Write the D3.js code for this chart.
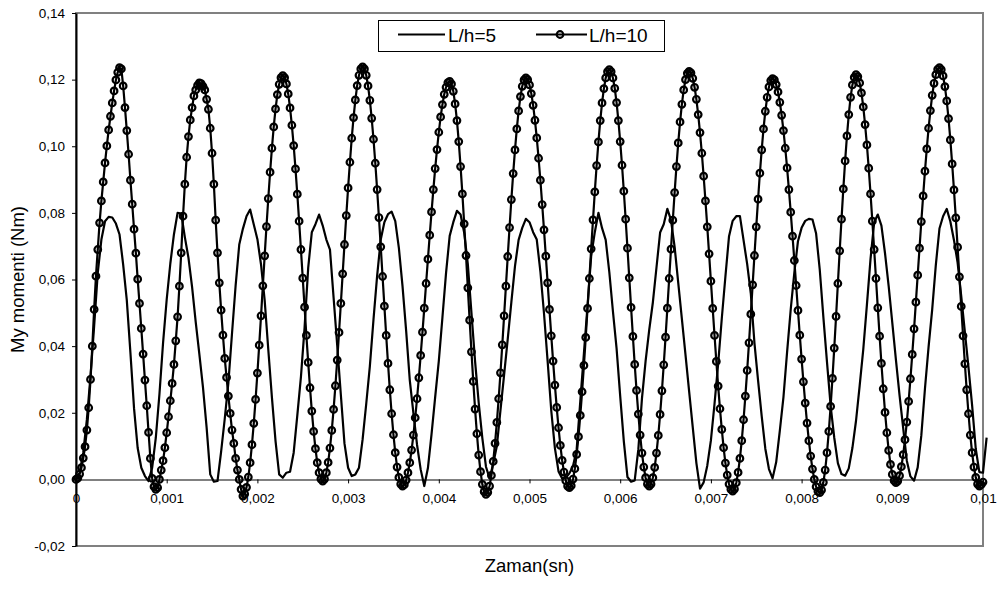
<!DOCTYPE html>
<html><head><meta charset="utf-8">
<script src="https://cdn.jsdelivr.net/npm/d3@7"></script>
<style>body{margin:0;background:#fff}svg{display:block}text{font-family:"Liberation Sans",Arial,sans-serif;fill:#000}</style>
</head><body><svg id="c" width="1003" height="590"></svg>
<script>
const seriesNames = ["L/h=5", "L/h=10"];
const xTitle = "Zaman(sn)";
const yTitle = "My momenti (Nm)";
const xTicks = [0, 0.001, 0.002, 0.003, 0.004, 0.005, 0.006, 0.007, 0.008, 0.009, 0.01];
const xTickLabels = ["0", "0,001", "0,002", "0,003", "0,004", "0,005", "0,006", "0,007", "0,008", "0,009", "0,01"];
const yTicks = [-0.02, 0, 0.02, 0.04, 0.06, 0.08, 0.10, 0.12, 0.14];
const yTickLabels = ["-0,02", "0,00", "0,02", "0,04", "0,06", "0,08", "0,10", "0,12", "0,14"];
// sampling interval (s) of each series
const step5 = 0.00004;
const step10 = 0.00002;
// L/h=5 moment values (Nm)
const lh5 = [
0,0.002,0.008,0.018,0.031,0.046,0.062,0.072,0.0775,0.0788,
0.0786,0.0768,0.0735,0.0645,0.0538,0.038,0.0213,0.0094,0.0035,0.001,
-0.0005,0.0035,0.0125,0.0256,0.041,0.054,0.0648,0.0736,0.080,0.0798,
0.0727,0.0665,0.0577,0.0472,0.0376,0.0276,0.0156,0.0015,-0.0007,-0.0005,
0.0083,0.0182,0.029,0.0438,0.0582,0.0705,0.0752,0.079,0.081,0.0765,
0.0721,0.0645,0.0538,0.039,0.0246,0.0115,0.0015,0.0005,0.002,0.0023,
0.008,0.0192,0.0308,0.0455,0.0635,0.0742,0.0766,0.0795,0.0762,0.072,
0.069,0.0546,0.0402,0.0254,0.0108,0.0035,0.001,0.0015,0.0035,0.012,
0.0227,0.034,0.048,0.0611,0.072,0.0772,0.0796,0.0804,0.0775,0.0694,
0.058,0.0446,0.0298,0.0199,0.0104,0.003,-0.002,0.0034,0.0136,0.0247,
0.0355,0.0486,0.062,0.0731,0.0772,0.0806,0.0795,0.074,0.0646,0.050,
0.0354,0.023,0.0124,0.0038,0.0003,0.0047,0.010,0.0208,0.0314,0.0421,
0.0532,0.064,0.0719,0.0755,0.0782,0.0772,0.0742,0.072,0.0624,0.0498,
0.0354,0.0206,0.0094,0.0024,0.0003,0.0005,0.0018,0.004,0.009,0.0234,
0.0378,0.0522,0.067,0.0742,0.080,0.0754,0.0719,0.0622,0.0504,0.0393,
0.025,0.0114,0.0007,-0.0007,-0.0003,0.009,0.0243,0.0355,0.0449,0.0531,
0.0636,0.0741,0.0766,0.0812,0.0778,0.0698,0.059,0.0482,0.0374,0.0264,
0.0156,0.0049,-0.0028,-0.0009,0.0041,0.0117,0.0227,0.0347,0.0483,0.0609,
0.073,0.0776,0.079,0.079,0.0718,0.0646,0.0558,0.041,0.0297,0.019,
0.0092,0.0031,0.0003,0.0052,0.0146,0.0247,0.0382,0.051,0.0621,0.0715,
0.0755,0.0776,0.0782,0.078,0.0738,0.063,0.0487,0.0352,0.0221,0.0125,
0.0049,0.0016,0.0011,0.0033,0.0094,0.0176,0.0281,0.039,0.0524,0.0662,
0.0771,0.0795,0.0762,0.0678,0.058,0.047,0.0359,0.0252,0.0154,0.0056,
0.0009,-0.0004,0.0036,0.0132,0.0272,0.0398,0.051,0.0644,0.0753,0.079,
0.0812,0.0774,0.0718,0.0651,0.055,0.0443,0.0336,0.0222,0.0092,0.0022,
0.002,0.0125
];
// L/h=10 moment values (Nm)
const lh10 = [
0,0.0004,0.0016,0.0035,0.0064,0.0098,0.0148,0.0215,0.0300,0.0400,0.0510,0.0610,0.0690,0.0770,0.0836,0.0893,0.0950,0.1001,0.1049,0.1090,0.1130,0.1166,0.1199,0.1222,0.1236,
0.1232,0.1181,0.1116,0.1047,0.0976,0.0898,0.0826,0.0751,0.0679,0.0601,0.0528,0.0453,0.0376,0.0298,0.0221,0.0141,0.0063,0.0003,-0.0022,-0.0030,-0.0025,
0.0000,0.0028,0.0056,0.0095,0.0140,0.0188,0.0236,0.0288,0.0345,0.0416,0.0488,0.0580,0.0680,0.0790,0.0886,0.0967,0.1029,0.1079,0.1116,0.1151,0.1169,0.1183,0.1190,
0.1188,0.1180,0.1169,0.1141,0.1111,0.1054,0.0979,0.0886,0.0778,0.0680,0.0590,0.0508,0.0433,0.0363,0.0306,0.0250,0.0198,0.0148,0.0108,0.0063,0.0028,0.0000,-0.0030,-0.0050,
-0.0044,-0.0024,0.0007,0.0050,0.0104,0.0168,0.0240,0.0319,0.0403,0.0491,0.0581,0.0671,0.0759,0.0843,0.0922,0.0994,0.1058,0.1112,0.1155,0.1186,0.1206,0.1212,
0.1206,0.1187,0.1157,0.1115,0.1063,0.1002,0.0932,0.0856,0.0775,0.0690,0.0604,0.0517,0.0432,0.0351,0.0275,0.0205,0.0144,0.0092,0.0050,0.0020,0.0001,-0.0005,
0.0001,0.0020,0.0051,0.0094,0.0147,0.0210,0.0281,0.0358,0.0441,0.0528,0.0617,0.0705,0.0792,0.0875,0.0952,0.1024,0.1086,0.1139,0.1182,0.1213,0.1232,0.1238,
0.1232,0.1213,0.1181,0.1138,0.1084,0.1021,0.0949,0.0870,0.0786,0.0698,0.0609,0.0520,0.0432,0.0348,0.0269,0.0197,0.0134,0.0080,0.0037,0.0006,-0.0014,-0.0020,
-0.0016,-0.0002,0.0020,0.0050,0.0088,0.0133,0.0185,0.0242,0.0305,0.0372,0.0442,0.0514,0.0588,0.0661,0.0733,0.0803,0.0870,0.0933,0.0990,0.1042,0.1088,0.1125,0.1156,0.1177,0.1191,0.1195,
0.1187,0.1165,0.1127,0.1077,0.1014,0.0939,0.0857,0.0767,0.0672,0.0575,0.0478,0.0383,0.0294,0.0211,0.0137,0.0073,0.0023,-0.0015,-0.0037,-0.0045,
-0.0039,-0.0020,0.0012,0.0054,0.0108,0.0171,0.0242,0.0320,0.0404,0.0491,0.0580,0.0669,0.0756,0.0840,0.0918,0.0989,0.1052,0.1106,0.1149,0.1180,0.1199,0.1205,
0.1200,0.1184,0.1158,0.1123,0.1078,0.1025,0.0964,0.0898,0.0825,0.0749,0.0670,0.0590,0.0510,0.0431,0.0355,0.0283,0.0216,0.0155,0.0102,0.0057,0.0022,-0.0004,-0.0020,-0.0025,
-0.0019,0.0001,0.0032,0.0075,0.0128,0.0192,0.0263,0.0342,0.0426,0.0513,0.0603,0.0692,0.0779,0.0863,0.0942,0.1013,0.1077,0.1130,0.1173,0.1205,0.1224,0.1230,
0.1224,0.1205,0.1174,0.1131,0.1077,0.1014,0.0943,0.0865,0.0781,0.0694,0.0605,0.0516,0.0429,0.0345,0.0267,0.0196,0.0133,0.0079,0.0037,0.0005,-0.0014,-0.0020,
-0.0014,0.0005,0.0036,0.0079,0.0132,0.0195,0.0266,0.0344,0.0427,0.0514,0.0603,0.0691,0.0778,0.0861,0.0939,0.1010,0.1073,0.1126,0.1169,0.1200,0.1219,0.1225,
0.1220,0.1204,0.1177,0.1141,0.1095,0.1041,0.0979,0.0910,0.0836,0.0758,0.0677,0.0595,0.0513,0.0432,0.0354,0.0280,0.0212,0.0150,0.0095,0.0049,0.0013,-0.0014,-0.0030,-0.0035,
-0.0029,-0.0010,0.0021,0.0063,0.0116,0.0179,0.0250,0.0327,0.0410,0.0496,0.0584,0.0672,0.0758,0.0841,0.0919,0.0989,0.1052,0.1105,0.1147,0.1178,0.1197,0.1203,
0.1199,0.1185,0.1163,0.1132,0.1093,0.1047,0.0994,0.0935,0.0870,0.0802,0.0730,0.0657,0.0582,0.0507,0.0433,0.0361,0.0293,0.0229,0.0169,0.0116,0.0070,0.0031,0.0000,-0.0022,-0.0036,-0.0040,
-0.0032,-0.0009,0.0028,0.0080,0.0144,0.0219,0.0303,0.0394,0.0489,0.0588,0.0686,0.0781,0.0872,0.0956,0.1031,0.1095,0.1147,0.1184,0.1207,0.1215,
0.1209,0.1190,0.1160,0.1118,0.1065,0.1004,0.0934,0.0857,0.0775,0.0690,0.0603,0.0515,0.0430,0.0348,0.0272,0.0201,0.0140,0.0087,0.0045,0.0015,-0.0004,-0.0010,
-0.0005,0.0011,0.0038,0.0074,0.0119,0.0172,0.0234,0.0302,0.0375,0.0452,0.0532,0.0613,0.0694,0.0774,0.0851,0.0925,0.0992,0.1054,0.1107,0.1153,0.1189,0.1215,0.1231,0.1236,
0.1230,0.1211,0.1179,0.1136,0.1083,0.1019,0.0947,0.0869,0.0785,0.0697,0.0608,0.0519,0.0431,0.0347,0.0269,0.0197,0.0133,0.0080,0.0037,0.0006,-0.0014,-0.0020,
-0.0016,-0.0008
];

const svg = d3.select("#c");
svg.append("rect").attr("width",1003).attr("height",590).attr("fill","#fff");
const pLeft = 76, pRight = 983, pTop = 13, pBottom = 546;
const x = d3.scaleLinear().domain([0, 0.01]).range([pLeft, pRight]);
const y = d3.scaleLinear().domain([-0.02, 0.14]).range([pBottom, pTop]);
const FONT = "'Liberation Sans',Arial,sans-serif";

// plot area border
svg.append("rect").attr("x", pLeft).attr("y", pTop).attr("width", pRight-pLeft).attr("height", pBottom-pTop)
  .attr("fill","none").attr("stroke","#808080").attr("stroke-width",2);

// x axis at y=0
const xa = svg.append("g").attr("transform",`translate(0,${y(0)})`)
  .call(d3.axisBottom(x).tickValues(xTicks).tickFormat((d,i)=>xTickLabels[i]).tickSize(4).tickPadding(10).tickSizeOuter(0));
xa.select(".domain").attr("stroke","#808080").attr("stroke-width",2);
xa.selectAll(".tick line").attr("stroke","#000");
xa.selectAll("text").attr("font-size",13.5).style("font-family",FONT);

// y axis
const ya = svg.append("g").attr("transform",`translate(${pLeft},0)`)
  .call(d3.axisLeft(y).tickValues(yTicks).tickFormat((d,i)=>yTickLabels[i]).tickSize(4).tickPadding(7).tickSizeOuter(0));
ya.select(".domain").attr("stroke","#000").attr("stroke-width",2);
ya.selectAll(".tick line").attr("stroke","#000");
ya.selectAll("text").attr("font-size",13.5).style("font-family",FONT);

// series
const pts5 = lh5.map((v,i)=>[i*step5, v]);
const pts10 = lh10.map((v,i)=>[i*step10, v]);
const line = d3.line().x(d=>x(d[0])).y(d=>y(d[1]));
svg.append("path").datum(pts5).attr("d", line).attr("fill","none").attr("stroke","#000").attr("stroke-width",2.2).attr("stroke-linejoin","round");
svg.append("path").datum(pts10).attr("d", line).attr("fill","none").attr("stroke","#000").attr("stroke-width",2.2).attr("stroke-linejoin","round");
svg.append("g").selectAll("circle").data(pts10).join("circle")
  .attr("cx", d=>x(d[0])).attr("cy", d=>y(d[1])).attr("r", 3.3)
  .attr("fill","none").attr("stroke","#000").attr("stroke-width",2.2);

// titles
svg.append("text").attr("x", (pLeft+pRight)/2).attr("y", 572).attr("text-anchor","middle").attr("font-size",18.5).text(xTitle);
svg.append("text").attr("transform",`translate(24,${(pTop+pBottom)/2}) rotate(-90)`).attr("text-anchor","middle").attr("font-size",18.5).text(yTitle);

// legend
const lg = svg.append("g");
lg.append("rect").attr("x",378.5).attr("y",20.5).attr("width",286).attr("height",31).attr("fill","#fff").attr("stroke","#000").attr("stroke-width",1);
lg.append("line").attr("x1",398).attr("x2",445).attr("y1",34.5).attr("y2",34.5).attr("stroke","#000").attr("stroke-width",2.2);
lg.append("text").attr("x",448).attr("y",42).attr("font-size",19).text(seriesNames[0]);
lg.append("line").attr("x1",536).attr("x2",587).attr("y1",34.5).attr("y2",34.5).attr("stroke","#000").attr("stroke-width",2.2);
lg.append("circle").attr("cx",560).attr("cy",34.5).attr("r",3.3).attr("fill","none").attr("stroke","#000").attr("stroke-width",2.2);
lg.append("text").attr("x",589).attr("y",42).attr("font-size",19).text(seriesNames[1]);
</script></body></html>
